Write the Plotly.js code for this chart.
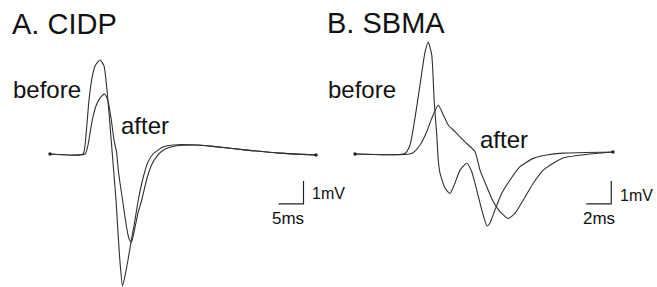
<!DOCTYPE html>
<html>
<head>
<meta charset="utf-8">
<script src="https://cdn.plot.ly/plotly-3.0.1.min.js"></script>
<style>html,body{margin:0;padding:0;background:#fff;}#chart{width:657px;height:287px;}</style>
</head>
<body>
<div id="chart"></div>
<script>
// Panel A: CIDP (time in ms, amplitude in mV)
const cidpBeforeT = [0, 6.6, 7.2, 7.8, 8.4, 9.0, 10.0, 10.8, 11.4, 12.0, 12.4, 12.8, 13.2, 13.6, 14.0, 14.5, 15.0, 15.6, 16.2, 17.0, 17.66, 18.66, 19.6, 20.6, 21.6, 22.6, 24.6, 29.4, 32.6, 39.4, 46.0, 53.2];
const cidpBeforeV = [0, 0, 0.83, 2.35, 3.30, 3.83, 4.09, 3.83, 2.78, 1.26, 0.17, -0.91, -2.0, -3.43, -4.70, -5.74, -5.30, -4.61, -3.83, -2.87, -2.0, -1.0, -0.35, 0, 0.17, 0.30, 0.39, 0.39, 0.33, 0.17, 0.04, -0.04];
const cidpAfterT = [0, 7.0, 7.6, 8.0, 8.6, 9.2, 10.0, 10.9, 11.6, 12.2, 12.8, 13.3, 13.66, 14.0, 14.6, 15.0, 15.6, 16.0, 16.3, 16.8, 17.6, 18.34, 19.46, 20.4, 21.4, 22.4, 23.4, 25.4, 29.4, 32.6, 39.4, 46.0, 53.2];
const cidpAfterV = [0, 0, 0.39, 0.91, 1.61, 2.09, 2.43, 2.61, 2.30, 1.57, 0.61, 0.09, -0.70, -1.26, -2.13, -2.74, -3.52, -3.78, -3.83, -3.39, -2.57, -2.0, -1.0, -0.43, -0.09, 0.13, 0.25, 0.36, 0.39, 0.33, 0.17, 0.04, -0.04];

// Panel B: SBMA
const sbmaBeforeT = [0, 4.0, 4.4, 4.8, 5.2, 5.6, 5.86, 6.14, 6.34, 6.54, 6.66, 6.8, 7.2, 7.6, 8.0, 8.4, 8.94, 9.34, 9.74, 10.14, 10.56, 10.8, 11.2, 11.74, 12.4, 13.2, 14.26, 15.34, 16.64, 20.64];
const sbmaBeforeV = [0, 0.02, 0.39, 1.57, 3.0, 4.43, 4.87, 4.30, 2.26, 0.83, -0.26, -0.83, -1.48, -1.72, -1.26, -0.70, -0.40, -0.77, -1.57, -2.43, -3.13, -3.0, -2.43, -1.71, -1.13, -0.55, -0.19, -0.04, 0.04, 0.09];
const sbmaAfterT = [0, 4.54, 5.2, 5.74, 6.14, 6.66, 7.06, 7.46, 8.0, 8.8, 9.6, 10.0, 10.54, 11.06, 11.6, 12.26, 12.8, 13.46, 14.26, 15.06, 15.86, 16.64, 18.8, 20.64];
const sbmaAfterV = [0, 0.02, 0.39, 0.97, 1.55, 2.13, 1.70, 1.26, 0.97, 0.53, 0.10, -0.70, -1.42, -2.07, -2.51, -2.80, -2.58, -2.0, -1.27, -0.70, -0.40, -0.17, 0, 0.09];

// Scale bars
const scaleA_ms = 5, scaleA_mV = 1;
const scaleB_ms = 2, scaleB_mV = 1;

const titles = ["A. CIDP", "B. SBMA"];
const traceLabels = ["before", "after"];
const scaleLabelsA = ["1mV", "5ms"];
const scaleLabelsB = ["1mV", "2ms"];

const W = 657, H = 287;
const px = x => x / W;
const py = y => 1 - y / H;
const lineStyle = {color: '#303030', width: 1.1, shape: 'spline', smoothing: 0.5};
const barStyle = {color: '#222', width: 1.2};

// scale bar corners (data coords)
const cornerA = [50.7, -2.17];
const cornerB = [20.5, -2.17];

function wave(t, v, xa, ya) {
  return {x: t, y: v, xaxis: xa, yaxis: ya, mode: 'lines', line: lineStyle, hoverinfo: 'skip'};
}
function ends(t, v, xa, ya) {
  const n = t.length - 1;
  return {x: [t[0], t[n]], y: [v[0], v[n]], xaxis: xa, yaxis: ya, mode: 'markers',
          marker: {color: '#222', size: 3.5, symbol: 'circle'}, hoverinfo: 'skip'};
}

const traces = [
  wave(cidpBeforeT, cidpBeforeV, 'x', 'y'),
  wave(cidpAfterT, cidpAfterV, 'x', 'y'),
  wave(sbmaBeforeT, sbmaBeforeV, 'x2', 'y2'),
  wave(sbmaAfterT, sbmaAfterV, 'x2', 'y2'),
  ends(cidpBeforeT, cidpBeforeV, 'x', 'y'),
  ends(sbmaBeforeT, sbmaBeforeV, 'x2', 'y2'),
  {x: [cornerA[0] - scaleA_ms, cornerA[0], cornerA[0]], y: [cornerA[1], cornerA[1], cornerA[1] + scaleA_mV],
   xaxis: 'x', yaxis: 'y', mode: 'lines', line: barStyle, hoverinfo: 'skip'},
  {x: [cornerB[0] - scaleB_ms, cornerB[0], cornerB[0]], y: [cornerB[1], cornerB[1], cornerB[1] + scaleB_mV],
   xaxis: 'x2', yaxis: 'y2', mode: 'lines', line: barStyle, hoverinfo: 'skip'}
];

const font = 'Liberation Sans, Arial, sans-serif';
function ann(text, x, y, size) {
  return {text: text, x: px(x), y: py(y), xref: 'paper', yref: 'paper', xanchor: 'left', yanchor: 'middle',
          showarrow: false, font: {family: font, size: size, color: '#111'}};
}

const hidden = {visible: false, showgrid: false, zeroline: false, fixedrange: true};
const yRange = [-5.783, 6.696];
const layout = {
  width: W, height: H,
  margin: {l: 0, r: 0, t: 0, b: 0},
  paper_bgcolor: '#fff', plot_bgcolor: '#fff',
  showlegend: false,
  xaxis: Object.assign({domain: [0, 0.5], range: [-10, 55.7], anchor: 'y'}, hidden),
  yaxis: Object.assign({domain: [0, 1], range: yRange, anchor: 'x'}, hidden),
  xaxis2: Object.assign({domain: [0.5, 1], range: [-2.12, 24.16], anchor: 'y2'}, hidden),
  yaxis2: Object.assign({domain: [0, 1], range: yRange, anchor: 'x2'}, hidden),
  annotations: [
    ann(titles[0], 10, 24, 29),
    ann(titles[1], 325, 23, 29),
    ann(traceLabels[0], 11, 89, 24),
    ann(traceLabels[1], 119, 126, 24),
    ann(traceLabels[0], 326, 89, 24),
    ann(traceLabels[1], 478, 139, 24),
    ann(scaleLabelsA[0], 310, 193, 16),
    ann(scaleLabelsA[1], 270, 218, 17),
    ann(scaleLabelsB[0], 618, 195, 16),
    ann(scaleLabelsB[1], 581, 218, 17)
  ]
};

Plotly.newPlot('chart', traces, layout, {displayModeBar: false, staticPlot: true});
</script>
</body>
</html>
